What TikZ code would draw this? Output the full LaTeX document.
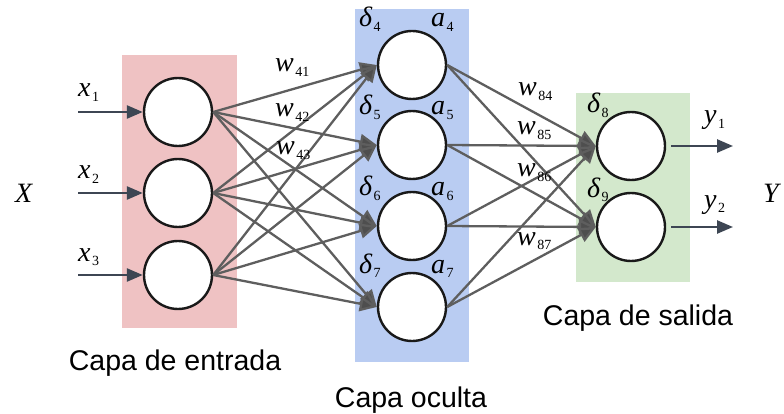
\documentclass[tikz,border=0pt]{standalone}
\usepackage{fontspec}
\setmainfont{Liberation Serif}
\newfontfamily\capfont{Liberation Sans}
\usetikzlibrary{arrows.meta}

\definecolor{inbox}{HTML}{EFC2C3}
\definecolor{hidbox}{HTML}{B9CCF2}
\definecolor{outbox}{HTML}{D3E8CC}
\definecolor{wirecol}{HTML}{5E5E5E}
\definecolor{headcol}{HTML}{4E4E4E}
\definecolor{iocol}{HTML}{3D4653}

% variable with a lowered subscript
\newcommand{\lab}[2]{{\fontsize{28}{28}\selectfont\itshape #1}\kern1.5pt{\fontsize{14}{14}\selectfont\raisebox{-4.5pt}{#2}}}

\begin{document}
\begin{tikzpicture}[x=1pt,y=-1pt,
  neuron/.style={circle,draw=black!90,line width=2.4pt,fill=white,minimum size=68pt,inner sep=0pt},
  wire/.style={draw=wirecol,line width=2.3pt,-{Triangle[length=17pt,width=15pt,fill=headcol]}},
  iowire/.style={draw=iocol,line width=2.5pt,-{Triangle[length=16pt,width=13pt]}},
  lbl/.style={anchor=base west,inner sep=0pt},
  caption/.style={anchor=base,inner sep=0pt,font=\capfont\fontsize{28.5}{30}\selectfont}]
\useasboundingbox (0,0) rectangle (784,414);

% layer backgrounds
\fill[inbox]  (122,55) rectangle (237,328);
\fill[hidbox] (355,9)  rectangle (469,362);
\fill[outbox] (576,93) rectangle (690,282);

% neurons
\node[neuron] (i1) at (178,112) {};
\node[neuron] (i2) at (178,193) {};
\node[neuron] (i3) at (178,275) {};
\node[neuron] (h4) at (412,65)  {};
\node[neuron] (h5) at (412,145) {};
\node[neuron] (h6) at (412,226) {};
\node[neuron] (h7) at (412,307) {};
\node[neuron] (o8) at (631,146) {};
\node[neuron] (o9) at (631,227) {};

% input -> hidden connections
\foreach \s in {i1,i2,i3}
  \foreach \t in {h4,h5,h6,h7}
    \draw[wire] (\s.east) -- (\t.west);
% hidden -> output connections
\foreach \s in {h4,h5,h6,h7}
  \foreach \t in {o8,o9}
    \draw[wire] (\s.east) -- (\t.west);

% input and output arrows
\coordinate (xs1) at (78,112);
\coordinate (xs2) at (78,193);
\coordinate (xs3) at (78,275);
\coordinate (ye1) at (733,146);
\coordinate (ye2) at (733,227);
\draw[iowire] (xs1) -- (i1.west);
\draw[iowire] (xs2) -- (i2.west);
\draw[iowire] (xs3) -- (i3.west);
\draw[iowire,shorten <=5pt] (o8.east) -- (ye1);
\draw[iowire,shorten <=5pt] (o9.east) -- (ye2);

% inputs and outputs
\node[lbl] (lx1) at (78,97)  {\lab{x}{1}};
\node[lbl] (lx2) at (78,179) {\lab{x}{2}};
\node[lbl] (lx3) at (78,261) {\lab{x}{3}};
\node[lbl] (lX)  at (15,203) {\fontsize{28}{28}\selectfont\itshape X};
\node[lbl] (ly1) at (704,124) {\lab{y}{1}};
\node[lbl] (ly2) at (704,208) {\lab{y}{2}};
\node[lbl] (lY)  at (763,203) {\fontsize{28}{28}\selectfont\itshape Y};

% weights
\node[lbl] (w41) at (275,72)  {\lab{w}{41}};
\node[lbl] (w42) at (275,117) {\lab{w}{42}};
\node[lbl] (w43) at (276,155) {\lab{w}{43}};
\node[lbl] (w84) at (518,96)  {\lab{w}{84}};
\node[lbl] (w85) at (517,135) {\lab{w}{85}};
\node[lbl] (w86) at (517,177) {\lab{w}{86}};
\node[lbl] (w87) at (517,245) {\lab{w}{87}};

% deltas and activations
\node[lbl] (d4) at (359,27)  {\lab{δ}{4}};
\node[lbl] (a4) at (431,27)  {\lab{a}{4}};
\node[lbl] (d5) at (359,115) {\lab{δ}{5}};
\node[lbl] (a5) at (431,115) {\lab{a}{5}};
\node[lbl] (d6) at (359,196) {\lab{δ}{6}};
\node[lbl] (a6) at (431,196) {\lab{a}{6}};
\node[lbl] (d7) at (359,273) {\lab{δ}{7}};
\node[lbl] (a7) at (431,273) {\lab{a}{7}};
\node[lbl] (d8) at (587,113) {\lab{δ}{8}};
\node[lbl] (d9) at (587,197) {\lab{δ}{9}};

% layer captions
\node[caption] (cin)  at (175,370) {Capa de entrada};
\node[caption] (chid) at (411,407) {Capa oculta};
\node[caption] (cout) at (638,325) {Capa de salida};
\end{tikzpicture}
\end{document}
